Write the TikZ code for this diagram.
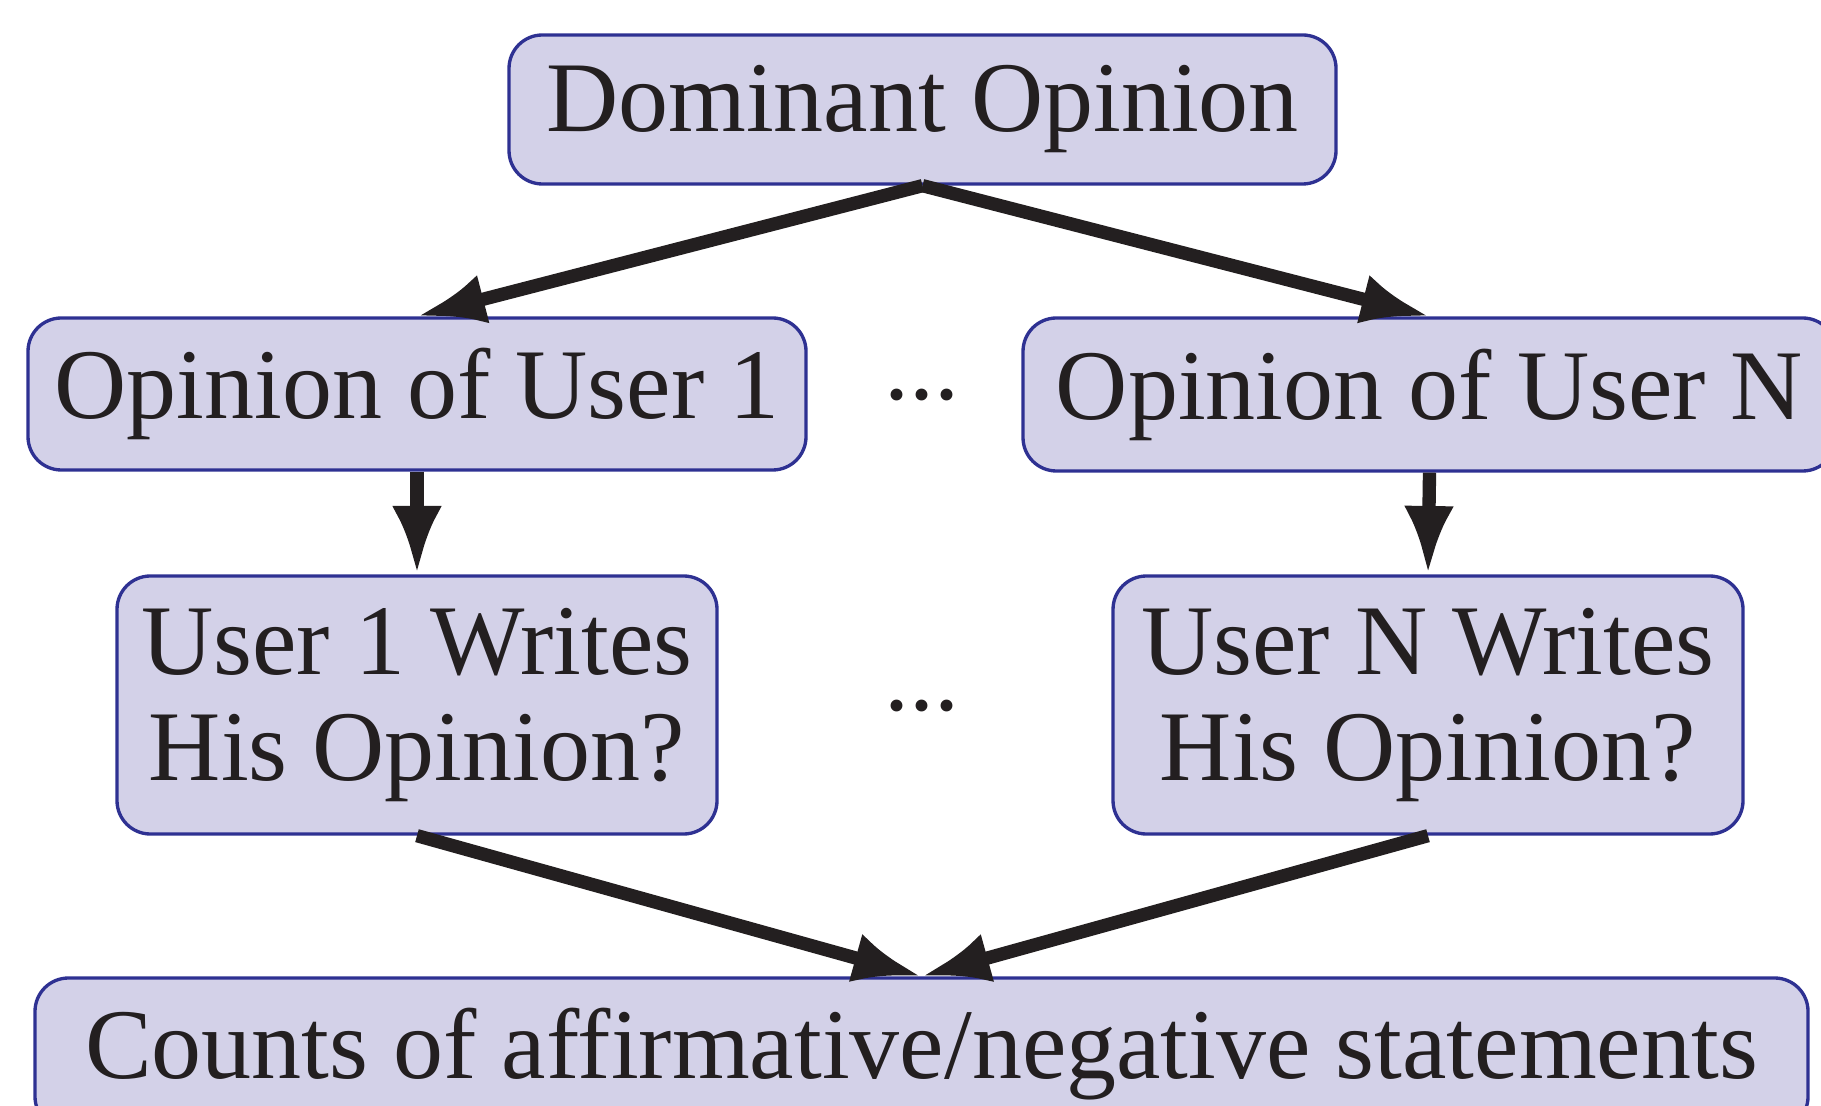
\documentclass[tikz,border=0pt]{standalone}
\usepackage{fontspec}
\setmainfont{Liberation Serif}
\usetikzlibrary{arrows.meta}

\definecolor{boxfill}{HTML}{D3D1E8}
\definecolor{boxline}{HTML}{2E3192}
\definecolor{ink}{HTML}{231F20}

\tikzset{
  opbox/.style={draw=boxline, fill=boxfill, line width=1pt,
    rounded corners=10pt, inner sep=0pt, align=center, text=ink,
    font=\fontsize{30}{32}\selectfont},
  arr/.style={draw=ink, line width=4pt,
    -{Latex[length=20.5pt,width=15pt]}},
  dotsnode/.style={inner sep=0pt, text=ink, font=\fontsize{30}{32}\selectfont}
}

\begin{document}
\begin{tikzpicture}[x=0.3pt, y=-0.3pt]
  \useasboundingbox (0,0) rectangle (1821,1106);

  \node[opbox, minimum width=248.1pt, minimum height=44.7pt] (dom) at (922.5,109.5) {Dominant Opinion};
  \node[opbox, minimum width=233.4pt, minimum height=45.6pt] (op1) at (417,394) {Opinion of User 1};
  \node[opbox, minimum width=243.9pt, minimum height=45.9pt] (opN) at (1429.5,394.5) {Opinion of User N};
  \node[opbox, minimum width=180pt, minimum height=77.4pt] (wr1) at (417,705) {User 1 Writes\\His Opinion?};
  \node[opbox, minimum width=189pt, minimum height=77.4pt] (wrN) at (1428,705) {User N Writes\\His Opinion?};
  \node[opbox, minimum width=531.9pt, minimum height=45.6pt] (cnt) at (921.5,1054) {Counts of affirmative/negative statements};

  \node[dotsnode] (dotsA) at (922,395) {...};
  \node[dotsnode] (dotsB) at (922,706) {...};

  \draw[arr] (dom.south) -- (op1.north);
  \draw[arr] (dom.south) -- (opN.north);
  \draw[arr] (op1.south) -- (wr1.north);
  \draw[arr] (opN.south) -- (wrN.north);
  \draw[arr] (wr1.south) -- (cnt.north);
  \draw[arr] (wrN.south) -- (cnt.north);
\end{tikzpicture}
\end{document}
